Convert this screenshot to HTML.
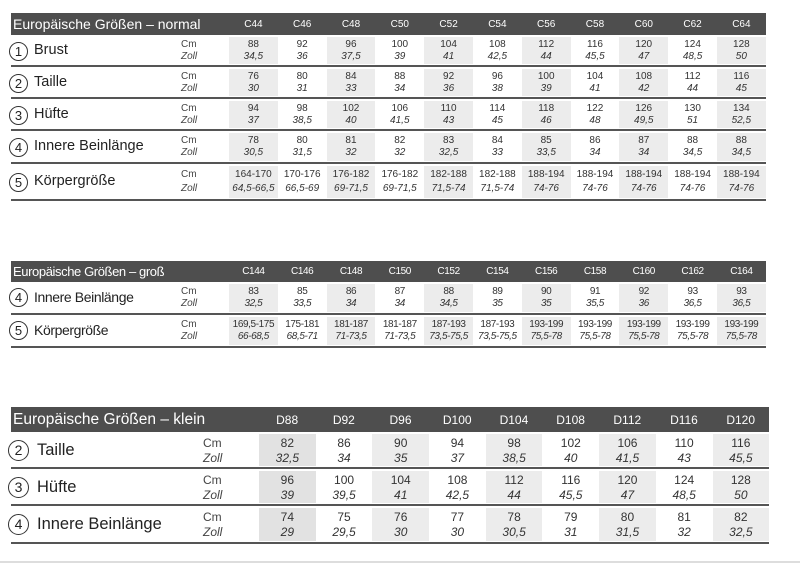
<!DOCTYPE html>
<html><head><meta charset="utf-8"><style>
body{margin:0;width:800px;height:563px;background:#fff;position:relative;overflow:hidden;font-family:"Liberation Sans","DejaVu Sans",sans-serif;color:#333}
.t{position:absolute;left:11px}
.h{display:flex;align-items:center;background:#4e4e4e;color:#fff}
.r{display:flex;border-bottom:2px solid #555;box-sizing:border-box}
.lab{position:relative;flex:none}
.lab .ci{position:absolute;border:1px solid #333;border-radius:50%;box-sizing:border-box;text-align:center;color:#222}
.lab .nm{position:absolute;color:#222}
.lab .u{position:absolute;color:#444}
.c{flex:none;text-align:center;box-sizing:border-box}
.r .c{margin:2px 0 1px}
.s{background:#ececec}
.s2{background:#e2e2e2}
i{font-style:italic;display:block}
b{font-weight:normal;display:block}
.t1{top:13px;width:755px}
.t1 .h{height:22px}
.t1 .h .ti{width:218px;font-size:14px;padding-left:2px;box-sizing:border-box}
.t1 .c{width:48.8px;font-size:10px}
.t1 .r{height:32px}
.t1 .lab{width:218px}
.t1 .ci{left:-2px;top:7px;width:19px;height:19px;font-size:13px;line-height:17px}
.t1 .nm{left:23px;top:7px;font-size:14.5px}
.t1 .u{left:170px;top:4px;font-size:10px;line-height:12px}
.t1 .r .c{padding-top:2px;line-height:12px}
.t2{top:261px;width:755px}
.t2 .h{height:21px}
.t2 .h .ti{width:218px;font-size:13px;padding-left:2px;box-sizing:border-box;letter-spacing:-0.4px}
.t2 .c{width:48.8px;font-size:10px;letter-spacing:-0.4px}
.t2 .r{height:33px}
.t2 .lab{width:218px}
.t2 .ci{left:-2px;top:6px;width:19px;height:19px;font-size:13px;line-height:17px}
.t2 .nm{left:23px;top:7px;font-size:14px;letter-spacing:-0.4px}
.t2 .u{left:170px;top:4px;font-size:10px;line-height:12px}
.t2 .r .c{padding-top:2px;line-height:12px}
.t3{top:407px;width:758px}
.t3 .h{height:25px}
.t3 .h .ti{width:248px;font-size:15.5px;padding-left:2px;box-sizing:border-box}
.t3 .c{width:56.7px;font-size:12px}
.t3 .r{height:37px}
.t3 .lab{width:248px}
.t3 .ci{left:-3px;top:8px;width:21px;height:21px;font-size:14px;line-height:19px}
.t3 .nm{left:26px;top:9px;font-size:16.5px}
.t3 .u{left:192px;top:4px;font-size:12px;line-height:15px}
.t3 .r .c{padding-top:2px;line-height:15px}
.bl{position:absolute;left:0;top:561px;width:800px;height:2px;background:#ddd}
</style></head><body>

<div class="t t1">
<div class="h"><div class="ti">Europäische Größen – normal</div><div class="c">C44</div><div class="c">C46</div><div class="c">C48</div><div class="c">C50</div><div class="c">C52</div><div class="c">C54</div><div class="c">C56</div><div class="c">C58</div><div class="c">C60</div><div class="c">C62</div><div class="c">C64</div></div>
<div class="r"><div class="lab"><div class="ci">1</div><div class="nm">Brust</div><div class="u">Cm<i>Zoll</i></div></div>
<div class="c s"><b>88</b><i>34,5</i></div><div class="c"><b>92</b><i>36</i></div><div class="c s"><b>96</b><i>37,5</i></div><div class="c"><b>100</b><i>39</i></div><div class="c s"><b>104</b><i>41</i></div><div class="c"><b>108</b><i>42,5</i></div><div class="c s"><b>112</b><i>44</i></div><div class="c"><b>116</b><i>45,5</i></div><div class="c s"><b>120</b><i>47</i></div><div class="c"><b>124</b><i>48,5</i></div><div class="c s"><b>128</b><i>50</i></div></div>
<div class="r"><div class="lab"><div class="ci">2</div><div class="nm">Taille</div><div class="u">Cm<i>Zoll</i></div></div>
<div class="c s"><b>76</b><i>30</i></div><div class="c"><b>80</b><i>31</i></div><div class="c s"><b>84</b><i>33</i></div><div class="c"><b>88</b><i>34</i></div><div class="c s"><b>92</b><i>36</i></div><div class="c"><b>96</b><i>38</i></div><div class="c s"><b>100</b><i>39</i></div><div class="c"><b>104</b><i>41</i></div><div class="c s"><b>108</b><i>42</i></div><div class="c"><b>112</b><i>44</i></div><div class="c s"><b>116</b><i>45</i></div></div>
<div class="r"><div class="lab"><div class="ci">3</div><div class="nm">Hüfte</div><div class="u">Cm<i>Zoll</i></div></div>
<div class="c s"><b>94</b><i>37</i></div><div class="c"><b>98</b><i>38,5</i></div><div class="c s"><b>102</b><i>40</i></div><div class="c"><b>106</b><i>41,5</i></div><div class="c s"><b>110</b><i>43</i></div><div class="c"><b>114</b><i>45</i></div><div class="c s"><b>118</b><i>46</i></div><div class="c"><b>122</b><i>48</i></div><div class="c s"><b>126</b><i>49,5</i></div><div class="c"><b>130</b><i>51</i></div><div class="c s"><b>134</b><i>52,5</i></div></div>
<div class="r" style="height:33px"><div class="lab"><div class="ci">4</div><div class="nm">Innere Beinlänge</div><div class="u">Cm<i>Zoll</i></div></div>
<div class="c s"><b>78</b><i>30,5</i></div><div class="c"><b>80</b><i>31,5</i></div><div class="c s"><b>81</b><i>32</i></div><div class="c"><b>82</b><i>32</i></div><div class="c s"><b>83</b><i>32,5</i></div><div class="c"><b>84</b><i>33</i></div><div class="c s"><b>85</b><i>33,5</i></div><div class="c"><b>86</b><i>34</i></div><div class="c s"><b>87</b><i>34</i></div><div class="c"><b>88</b><i>34,5</i></div><div class="c s"><b>88</b><i>34,5</i></div></div>
<div class="r" style="height:37px"><div class="lab"><div class="ci" style="top:9px">5</div><div class="nm" style="top:9px">Körpergröße</div><div class="u" style="line-height:14px">Cm<i>Zoll</i></div></div>
<div class="c s" style="line-height:14px"><b>164-170</b><i>64,5-66,5</i></div><div class="c" style="line-height:14px"><b>170-176</b><i>66,5-69</i></div><div class="c s" style="line-height:14px"><b>176-182</b><i>69-71,5</i></div><div class="c" style="line-height:14px"><b>176-182</b><i>69-71,5</i></div><div class="c s" style="line-height:14px"><b>182-188</b><i>71,5-74</i></div><div class="c" style="line-height:14px"><b>182-188</b><i>71,5-74</i></div><div class="c s" style="line-height:14px"><b>188-194</b><i>74-76</i></div><div class="c" style="line-height:14px"><b>188-194</b><i>74-76</i></div><div class="c s" style="line-height:14px"><b>188-194</b><i>74-76</i></div><div class="c" style="line-height:14px"><b>188-194</b><i>74-76</i></div><div class="c s" style="line-height:14px"><b>188-194</b><i>74-76</i></div></div>
</div>

<div class="t t2">
<div class="h"><div class="ti">Europäische Größen – groß</div><div class="c">C144</div><div class="c">C146</div><div class="c">C148</div><div class="c">C150</div><div class="c">C152</div><div class="c">C154</div><div class="c">C156</div><div class="c">C158</div><div class="c">C160</div><div class="c">C162</div><div class="c">C164</div></div>
<div class="r"><div class="lab"><div class="ci">4</div><div class="nm">Innere Beinlänge</div><div class="u">Cm<i>Zoll</i></div></div>
<div class="c s"><b>83</b><i>32,5</i></div><div class="c"><b>85</b><i>33,5</i></div><div class="c s"><b>86</b><i>34</i></div><div class="c"><b>87</b><i>34</i></div><div class="c s"><b>88</b><i>34,5</i></div><div class="c"><b>89</b><i>35</i></div><div class="c s"><b>90</b><i>35</i></div><div class="c"><b>91</b><i>35,5</i></div><div class="c s"><b>92</b><i>36</i></div><div class="c"><b>93</b><i>36,5</i></div><div class="c s"><b>93</b><i>36,5</i></div></div>
<div class="r"><div class="lab"><div class="ci">5</div><div class="nm">Körpergröße</div><div class="u">Cm<i>Zoll</i></div></div>
<div class="c s"><b>169,5-175</b><i>66-68,5</i></div><div class="c"><b>175-181</b><i>68,5-71</i></div><div class="c s"><b>181-187</b><i>71-73,5</i></div><div class="c"><b>181-187</b><i>71-73,5</i></div><div class="c s"><b>187-193</b><i>73,5-75,5</i></div><div class="c"><b>187-193</b><i>73,5-75,5</i></div><div class="c s"><b>193-199</b><i>75,5-78</i></div><div class="c"><b>193-199</b><i>75,5-78</i></div><div class="c s"><b>193-199</b><i>75,5-78</i></div><div class="c"><b>193-199</b><i>75,5-78</i></div><div class="c s"><b>193-199</b><i>75,5-78</i></div></div>
</div>

<div class="t t3">
<div class="h"><div class="ti">Europäische Größen – klein</div><div class="c">D88</div><div class="c">D92</div><div class="c">D96</div><div class="c">D100</div><div class="c">D104</div><div class="c">D108</div><div class="c">D112</div><div class="c">D116</div><div class="c">D120</div></div>
<div class="r"><div class="lab"><div class="ci">2</div><div class="nm">Taille</div><div class="u">Cm<i>Zoll</i></div></div>
<div class="c s2"><b>82</b><i>32,5</i></div><div class="c"><b>86</b><i>34</i></div><div class="c s"><b>90</b><i>35</i></div><div class="c"><b>94</b><i>37</i></div><div class="c s"><b>98</b><i>38,5</i></div><div class="c"><b>102</b><i>40</i></div><div class="c s"><b>106</b><i>41,5</i></div><div class="c"><b>110</b><i>43</i></div><div class="c s"><b>116</b><i>45,5</i></div></div>
<div class="r"><div class="lab"><div class="ci">3</div><div class="nm">Hüfte</div><div class="u">Cm<i>Zoll</i></div></div>
<div class="c s2"><b>96</b><i>39</i></div><div class="c"><b>100</b><i>39,5</i></div><div class="c s"><b>104</b><i>41</i></div><div class="c"><b>108</b><i>42,5</i></div><div class="c s"><b>112</b><i>44</i></div><div class="c"><b>116</b><i>45,5</i></div><div class="c s"><b>120</b><i>47</i></div><div class="c"><b>124</b><i>48,5</i></div><div class="c s"><b>128</b><i>50</i></div></div>
<div class="r" style="height:38px"><div class="lab"><div class="ci">4</div><div class="nm">Innere Beinlänge</div><div class="u">Cm<i>Zoll</i></div></div>
<div class="c s2"><b>74</b><i>29</i></div><div class="c"><b>75</b><i>29,5</i></div><div class="c s"><b>76</b><i>30</i></div><div class="c"><b>77</b><i>30</i></div><div class="c s"><b>78</b><i>30,5</i></div><div class="c"><b>79</b><i>31</i></div><div class="c s"><b>80</b><i>31,5</i></div><div class="c"><b>81</b><i>32</i></div><div class="c s"><b>82</b><i>32,5</i></div></div>
</div>
<div class="bl"></div>
</body></html>
